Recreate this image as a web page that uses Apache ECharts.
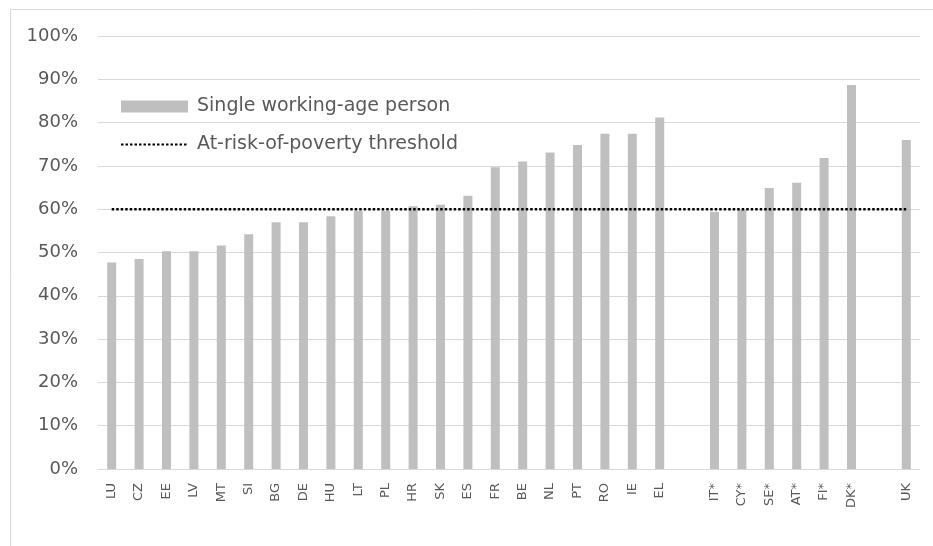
<!DOCTYPE html>
<html>
<head>
<meta charset="utf-8">
<script src="https://cdn.jsdelivr.net/npm/echarts@6/dist/echarts.min.js"></script>
<style>html,body{margin:0;padding:0;background:#fff}#c{width:933px;height:546px}</style>
</head>
<body>
<div id="c"></div>
<script>
const categories = ['LU','CZ','EE','LV','MT','SI','BG','DE','HU','LT','PL','HR','SK','ES','FR','BE','NL','PT','RO','IE','EL','','IT*','CY*','SE*','AT*','FI*','DK*','','UK'];
const singleWorkingAge = [47.7,48.5,50.3,50.3,51.6,54.2,57.0,57.0,58.4,59.6,59.6,60.7,61.0,63.1,69.7,71.0,73.1,74.8,77.4,77.4,81.2,null,59.4,59.8,64.9,66.1,71.8,88.7,null,76.0];
const threshold = [60,60,60,60,60,60,60,60,60,60,60,60,60,60,60,60,60,60,60,60,60,60,60,60,60,60,60,60,60,60];
const yTicks = {min:0, max:100, interval:10};

const chart = echarts.init(document.getElementById('c'), null, {renderer:'canvas'});
const font = 'DejaVu Sans';
chart.setOption({
  animation:false,
  backgroundColor:'#fff',
  graphic:[{type:'rect', shape:{x:10.5,y:9.5,width:940,height:560}, style:{fill:'none', stroke:'#d9d9d9', lineWidth:1}, silent:true}],
  grid:{left:98, right:13, top:36, bottom:77},
  legend:{
    orient:'vertical', left:115, top:92, itemGap:19,
    itemWidth:67, itemHeight:12,
    textStyle:{fontFamily:font, fontSize:19, color:'#595959', padding:[0,0,0,4]},
    data:[
      {name:'Single working-age person', icon:'rect'},
      {name:'At-risk-of-poverty threshold', itemStyle:{opacity:0}}
    ]
  },
  xAxis:{
    type:'category', data:categories,
    axisTick:{show:false},
    axisLine:{lineStyle:{color:'#d9d9d9', width:1}},
    axisLabel:{interval:0, rotate:90, margin:14, fontFamily:font, fontSize:13, color:'#595959'}
  },
  yAxis:{
    type:'value', min:yTicks.min, max:yTicks.max, interval:yTicks.interval,
    axisLine:{show:false}, axisTick:{show:false},
    axisLabel:{formatter:'{value}%', margin:20, fontFamily:font, fontSize:18, color:'#595959'},
    splitLine:{lineStyle:{color:'#d9d9d9', width:1}}
  },
  series:[
    {name:'Single working-age person', type:'bar', data:singleWorkingAge, barWidth:9, itemStyle:{color:'#bfbfbf'}},
    {name:'At-risk-of-poverty threshold', type:'line', data:threshold, symbol:'none', itemStyle:{color:'#000'},
     lineStyle:{color:'#000', width:2.5, type:[2.5,2]}, z:5}
  ]
});
</script>
</body>
</html>
